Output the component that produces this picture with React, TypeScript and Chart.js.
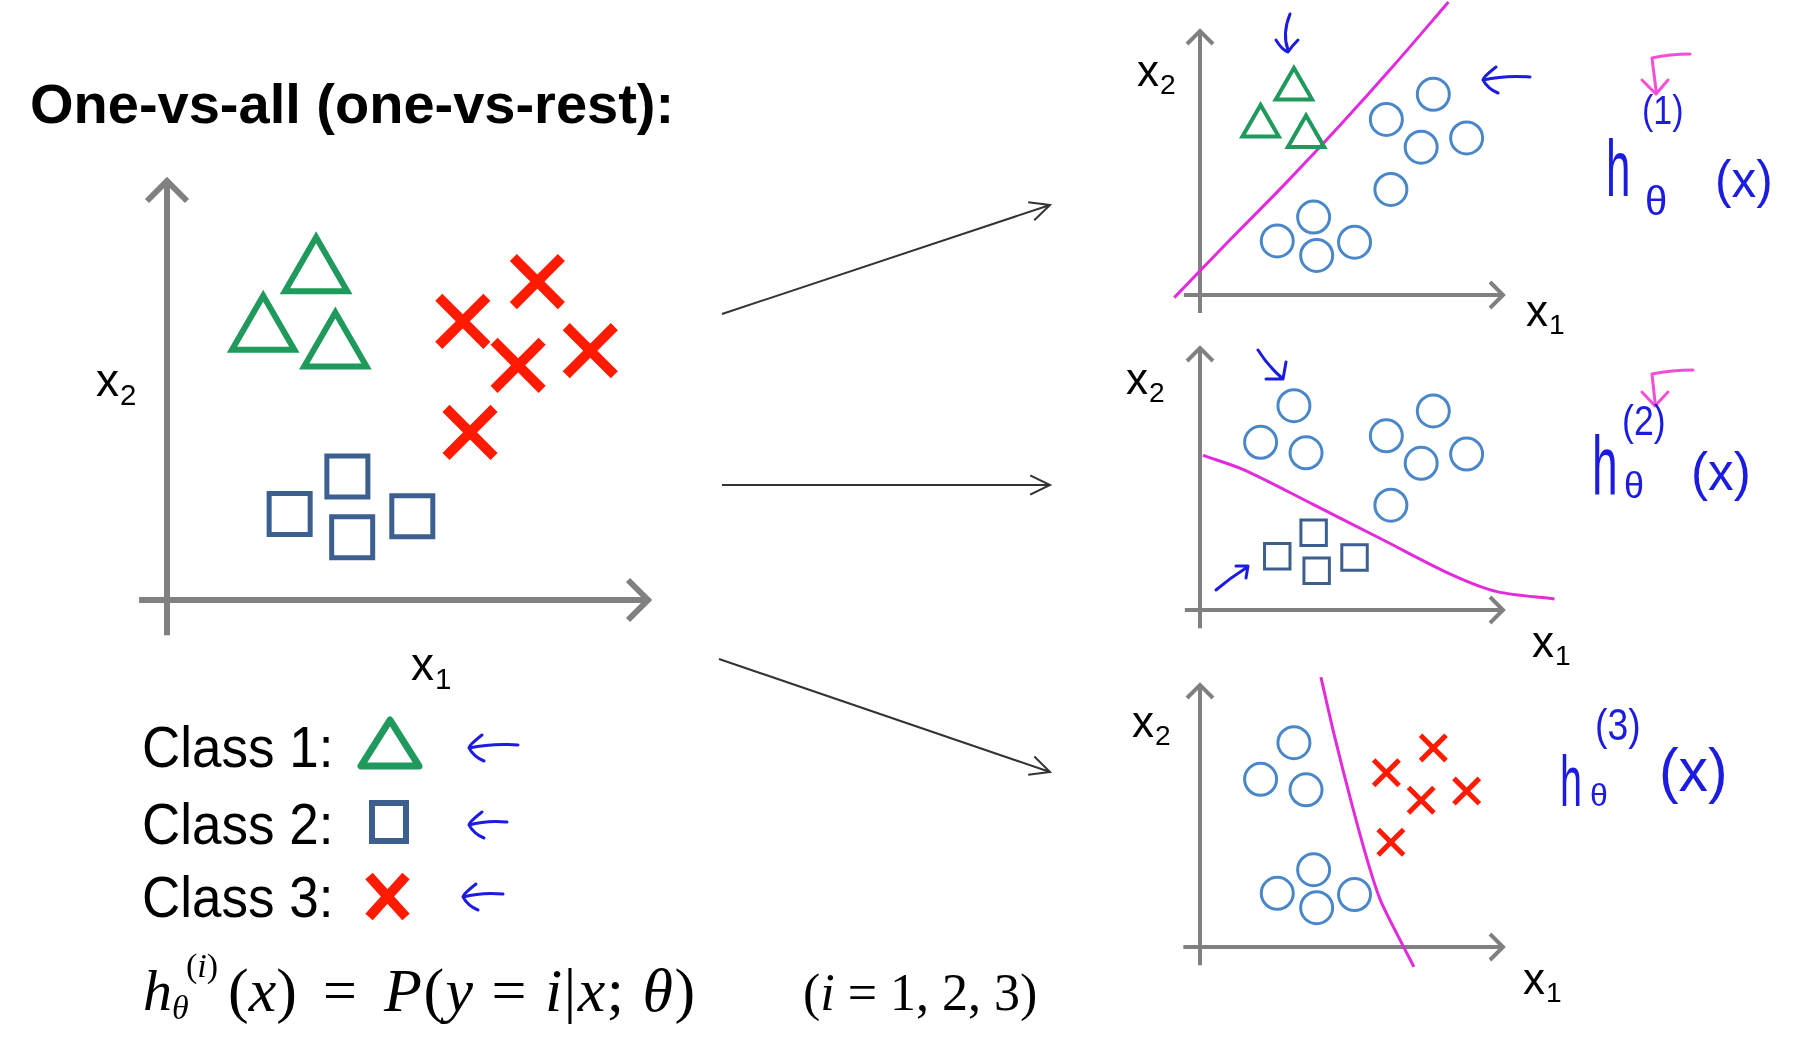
import React, { useEffect, useRef } from 'react';
import { Chart, registerables } from 'chart.js';

Chart.register(...registerables);

// ---------------- data (plot units: each axis arrow ends at 10) ----------------
const class1X = [3.1, 2.0, 3.5];
const class1Y = [7.8, 6.4, 6.0];
const class2X = [3.75, 2.55, 3.85, 5.1];
const class2Y = [2.95, 2.05, 1.5, 2.0];
const class3X = [7.7, 6.15, 7.3, 8.8, 6.3];
const class3Y = [7.6, 6.65, 5.6, 5.95, 4.0];

// decision boundaries drawn in the three small panels
const boundary1X = [-0.85, 1.0, 2.8, 4.6, 6.4, 8.2];
const boundary1Y = [-0.1, 2.1, 4.2, 6.4, 8.7, 11.1];
const boundary2X = [0.1, 1.45, 3.7, 6.0, 8.3, 9.8, 11.7];
const boundary2Y = [5.9, 5.35, 4.05, 2.7, 1.35, 0.7, 0.42];
const boundary3X = [3.99, 4.45, 5.0, 5.55, 5.95, 6.5, 7.06];
const boundary3Y = [10.3, 8.0, 5.5, 3.2, 1.8, 0.5, -0.76];

const titleText = 'One-vs-all (one-vs-rest):';
const classLabels = ['Class 1:', 'Class 2:', 'Class 3:'];
const hypothesisIdx = ['1', '2', '3'];

// ---------------- colours ----------------
const GREEN = '#1f9a5c';
const SLATE = '#3d5f8f';
const RED = '#ff1a00';
const CIRCLE = '#4a87c8';
const MAGENTA = '#e22bdc';
const INK = '#1c1ce0';
const PINK = '#f24fd6';
const AXIS = '#808080';

// ---------------- layout (pixels) ----------------
type Panel = {
  ox: number; oy: number; ux: number; uy: number;
  left: number; top: number; w: number; h: number;
  axX: [number, number]; axY: [number, number]; axW: number; head: number;
};
const MAIN: Panel = { ox: 167, oy: 600, ux: 48.1, uy: 41.9, left: 90, top: 150, w: 640, h: 530, axX: [-0.58, 10], axY: [-0.84, 10], axW: 6, head: 20 };
const P1: Panel = { ox: 1200, oy: 295, ux: 30.3, uy: 26.4, left: 1130, top: 0, w: 480, h: 330, axX: [-0.53, 10], axY: [-0.68, 10], axW: 4, head: 13 };
const P2: Panel = { ox: 1200, oy: 610, ux: 30.3, uy: 26.2, left: 1130, top: 330, w: 480, h: 320, axX: [-0.5, 10], axY: [-0.7, 10], axW: 4, head: 13 };
const P3: Panel = { ox: 1200, oy: 947, ux: 30.3, uy: 26.2, left: 1130, top: 655, w: 480, h: 340, axX: [-0.55, 10], axY: [-0.7, 10], axW: 4, head: 13 };

const pts = (xs: number[], ys: number[]) => xs.map((x, i) => ({ x, y: ys[i] }));

function markers(xs: number[], ys: number[], style: string, color: string, radius: number, bw: number) {
  return {
    data: pts(xs, ys),
    pointStyle: style,
    pointRadius: radius,
    pointBorderColor: color,
    pointBackgroundColor: 'rgba(0,0,0,0)',
    pointBorderWidth: bw,
    showLine: false,
    clip: false as any,
  };
}
function curve(xs: number[], ys: number[]) {
  return {
    data: pts(xs, ys),
    showLine: true,
    borderColor: MAGENTA,
    borderWidth: 3,
    pointRadius: 0,
    tension: 0.3,
    fill: false,
    clip: false as any,
  };
}

const arrowAxes = {
  id: 'arrowAxes',
  beforeDatasetsDraw(chart: any, _args: any, opts: any) {
    const { ctx } = chart;
    const sx = chart.scales.x;
    const sy = chart.scales.y;
    const x0 = sx.getPixelForValue(0);
    const y0 = sy.getPixelForValue(0);
    const xa = sx.getPixelForValue(opts.axX[0]);
    const xb = sx.getPixelForValue(opts.axX[1]);
    const ya = sy.getPixelForValue(opts.axY[0]);
    const yb = sy.getPixelForValue(opts.axY[1]);
    const h = opts.head;
    ctx.save();
    ctx.strokeStyle = AXIS;
    ctx.lineWidth = opts.axW;
    ctx.lineCap = 'butt';
    ctx.lineJoin = 'miter';
    ctx.beginPath();
    ctx.moveTo(xa, y0); ctx.lineTo(xb, y0);
    ctx.moveTo(x0, ya); ctx.lineTo(x0, yb);
    ctx.stroke();
    ctx.beginPath();
    ctx.moveTo(xb - h, y0 - h); ctx.lineTo(xb, y0); ctx.lineTo(xb - h, y0 + h);
    ctx.moveTo(x0 - h, yb + h); ctx.lineTo(x0, yb); ctx.lineTo(x0 + h, yb + h);
    ctx.stroke();
    ctx.restore();
  },
};

function ScatterPanel({ p, datasets }: { p: Panel; datasets: any[] }) {
  const ref = useRef<HTMLCanvasElement>(null);
  useEffect(() => {
    const xMin = (p.left - p.ox) / p.ux;
    const xMax = (p.left + p.w - p.ox) / p.ux;
    const yMax = (p.oy - p.top) / p.uy;
    const yMin = (p.oy - (p.top + p.h)) / p.uy;
    const chart = new Chart(ref.current as HTMLCanvasElement, {
      type: 'scatter',
      data: { datasets },
      options: {
        animation: false,
        responsive: false,
        maintainAspectRatio: false,
        events: [],
        layout: { padding: 0, autoPadding: false },
        scales: {
          x: { type: 'linear', display: false, min: xMin, max: xMax },
          y: { type: 'linear', display: false, min: yMin, max: yMax },
        },
        plugins: {
          legend: { display: false },
          tooltip: { enabled: false },
          arrowAxes: { axX: p.axX, axY: p.axY, axW: p.axW, head: p.head },
        } as any,
      },
      plugins: [arrowAxes],
    });
    return () => chart.destroy();
  }, []);
  return (
    <canvas
      ref={ref}
      width={p.w}
      height={p.h}
      style={{ position: 'absolute', left: p.left, top: p.top, width: p.w, height: p.h }}
    />
  );
}

const SANS = '"Liberation Sans", Arial, sans-serif';
const SERIF = '"Liberation Serif", "DejaVu Serif", serif';

function Txt({ x, base, size, children, style }: any) {
  return (
    <div
      style={{
        position: 'absolute',
        left: x,
        top: base - 0.8465 * size,
        fontSize: size,
        lineHeight: 1,
        whiteSpace: 'nowrap',
        fontFamily: SANS,
        color: '#000',
        ...style,
      }}
    >
      {children}
    </div>
  );
}

function AxisLabel({ x, base, sub, size = 44 }: any) {
  return (
    <Txt x={x} base={base} size={size}>
      x<span style={{ fontSize: '0.64em', position: 'relative', top: '0.3em', marginLeft: 1 }}>{sub}</span>
    </Txt>
  );
}

function HandLabel({ h, theta, sup, arg }: any) {
  const hand = { color: INK, fontFamily: SANS };
  return (
    <>
      <Txt x={h[0]} base={h[1]} size={h[2]} style={{ ...hand, transform: 'scaleX(0.55)', transformOrigin: 'left' }}>h</Txt>
      <Txt x={theta[0]} base={theta[1]} size={theta[2]} style={hand}>θ</Txt>
      <Txt x={sup[0]} base={sup[1]} size={sup[2]} style={{ ...hand, transform: 'scaleX(0.85)', transformOrigin: 'left' }}>({sup[3]})</Txt>
      <Txt x={arg[0]} base={arg[1]} size={arg[2]} style={{ ...hand, transform: 'scaleX(0.95)', transformOrigin: 'left' }}>(x)</Txt>
    </>
  );
}

function arrowLine(x1: number, y1: number, x2: number, y2: number, len: number) {
  const a = Math.atan2(y2 - y1, x2 - x1);
  const s = 0.45;
  const p1 = [x2 - len * Math.cos(a - s), y2 - len * Math.sin(a - s)];
  const p2 = [x2 - len * Math.cos(a + s), y2 - len * Math.sin(a + s)];
  return `M${x1},${y1} L${x2},${y2} M${p1[0]},${p1[1]} L${x2},${y2} L${p2[0]},${p2[1]}`;
}

function handLeft(x1: number, x2: number, y: number) {
  return `M${x2},${y - 3} Q${(x1 + x2) / 2},${y - 5} ${x1 + 3},${y} M${x1 + 16},${y - 13} Q${x1 + 2},${y - 2} ${x1 + 3},${y} Q${x1 + 8},${y + 9} ${x1 + 18},${y + 13}`;
}

export default function App() {
  const p1Sets = [
    markers(class1X, class1Y, 'triangle', GREEN, 21, 4),
    markers(class2X, class2Y, 'circle', CIRCLE, 16, 3),
    markers(class3X, class3Y, 'circle', CIRCLE, 16, 3),
    curve(boundary1X, boundary1Y),
  ];
  const p2Sets = [
    markers(class1X, class1Y, 'circle', CIRCLE, 16, 3),
    markers(class3X, class3Y, 'circle', CIRCLE, 16, 3),
    markers(class2X, class2Y, 'rect', SLATE, 18, 3),
    curve(boundary2X, boundary2Y),
  ];
  const p3Sets = [
    markers(class1X, class1Y, 'circle', CIRCLE, 16, 3),
    markers(class2X, class2Y, 'circle', CIRCLE, 16, 3),
    markers(class3X, class3Y, 'crossRot', RED, 18, 5),
    curve(boundary3X, boundary3Y),
  ];
  const mainSets = [
    markers(class1X, class1Y, 'triangle', GREEN, 36, 6),
    markers(class2X, class2Y, 'rect', SLATE, 29, 5),
    markers(class3X, class3Y, 'crossRot', RED, 34, 10),
  ];

  return (
    <div style={{ position: 'relative', width: 1806, height: 1044, background: '#fff', overflow: 'hidden' }}>
      <style>{`body{margin:0;background:#fff}`}</style>

      <ScatterPanel p={MAIN} datasets={mainSets} />
      <ScatterPanel p={P1} datasets={p1Sets} />
      <ScatterPanel p={P2} datasets={p2Sets} />
      <ScatterPanel p={P3} datasets={p3Sets} />

      <svg width={1806} height={1044} style={{ position: 'absolute', left: 0, top: 0 }}>
        {/* arrows between the panels */}
        <g stroke="#333" strokeWidth={2} fill="none">
          <path d={arrowLine(722, 314, 1050, 205, 22)} />
          <path d={arrowLine(722, 485, 1050, 485, 22)} />
          <path d={arrowLine(719, 659, 1050, 772, 22)} />
        </g>
        {/* legend symbols */}
        <polygon points="390,720 361,766 419,766" fill="none" stroke={GREEN} strokeWidth={7} strokeLinejoin="round" />
        <rect x={372} y={803} width={34} height={38} fill="none" stroke={SLATE} strokeWidth={6} />
        <g stroke={RED} strokeWidth={10}>
          <line x1={369} y1={876} x2={406} y2={917} />
          <line x1={406} y1={876} x2={369} y2={917} />
        </g>
        {/* handwritten arrows */}
        <g stroke={INK} strokeWidth={3} fill="none" strokeLinecap="round" strokeLinejoin="round">
          <path d={handLeft(466, 518, 748)} />
          <path d={handLeft(466, 507, 825)} />
          <path d={handLeft(460, 503, 897)} />
          <path d={handLeft(1480, 1530, 80)} />
          <path d="M1290,14 Q1282,34 1288,50 M1276,40 Q1282,50 1288,52 Q1292,46 1298,40" />
          <path d="M1258,350 Q1268,366 1282,378 M1266,379 L1283,379 L1286,362" />
          <path d="M1216,590 Q1230,578 1246,568 M1236,566 L1248,566 L1246,578" />
        </g>
        <g stroke={PINK} strokeWidth={3} fill="none" strokeLinecap="round" strokeLinejoin="round">
          <path d="M1690,54 Q1670,54 1652,58 L1656,90 M1642,80 L1656,94 L1668,80" />
          <path d="M1693,370 Q1672,370 1652,374 L1655,402 M1642,392 L1655,406 L1668,392" />
        </g>
      </svg>

      {/* title */}
      <Txt x={30} base={123} size={56} style={{ fontWeight: 700 }}>{titleText}</Txt>

      {/* axis labels */}
      <AxisLabel x={96} base={396} sub="2" size={46} />
      <AxisLabel x={411} base={680} sub="1" size={46} />
      <AxisLabel x={1137} base={86} sub="2" />
      <AxisLabel x={1526} base={326} sub="1" />
      <AxisLabel x={1126} base={394} sub="2" />
      <AxisLabel x={1532} base={657} sub="1" />
      <AxisLabel x={1132} base={737} sub="2" />
      <AxisLabel x={1523} base={994} sub="1" />

      {/* class legend */}
      {classLabels.map((c, i) => (
        <Txt key={c} x={142} base={[767, 844, 917][i]} size={57} style={{ transform: 'scaleX(0.93)', transformOrigin: 'left' }}>{c}</Txt>
      ))}

      {/* formula */}
      <div style={{ fontFamily: SERIF, color: '#000' }}>
        <Txt x={143} base={1011} size={58} style={{ fontFamily: SERIF, fontStyle: 'italic' }}>h</Txt>
        <Txt x={186} base={978} size={34} style={{ fontFamily: SERIF }}>(<i>i</i>)</Txt>
        <Txt x={172} base={1020} size={34} style={{ fontFamily: SERIF, fontStyle: 'italic' }}>θ</Txt>
        <Txt x={228} base={1011} size={62} style={{ fontFamily: SERIF }}>(<i>x</i>)</Txt>
        <Txt x={323} base={1011} size={60} style={{ fontFamily: SERIF }}>=</Txt>
        <Txt x={384} base={1011} size={62} style={{ fontFamily: SERIF, letterSpacing: 1.5 }}>
          <i>P</i>(<i>y</i> = <i>i</i>|<i>x</i>; <i>θ</i>)
        </Txt>
        <Txt x={803} base={1011} size={52} style={{ fontFamily: SERIF }}>
          (<i>i</i> = 1, 2, 3)
        </Txt>
      </div>

      {/* handwritten hypothesis labels */}
      <HandLabel h={[1606, 197, 80]} theta={[1645, 215, 40]} sup={[1642, 124, 40, hypothesisIdx[0]]} arg={[1715, 197, 52]} />
      <HandLabel h={[1592, 495, 84]} theta={[1624, 498, 36]} sup={[1622, 436, 42, hypothesisIdx[1]]} arg={[1691, 490, 54]} />
      <HandLabel h={[1560, 806, 72]} theta={[1590, 806, 32]} sup={[1595, 740, 44, hypothesisIdx[2]]} arg={[1659, 791, 62]} />
    </div>
  );
}
